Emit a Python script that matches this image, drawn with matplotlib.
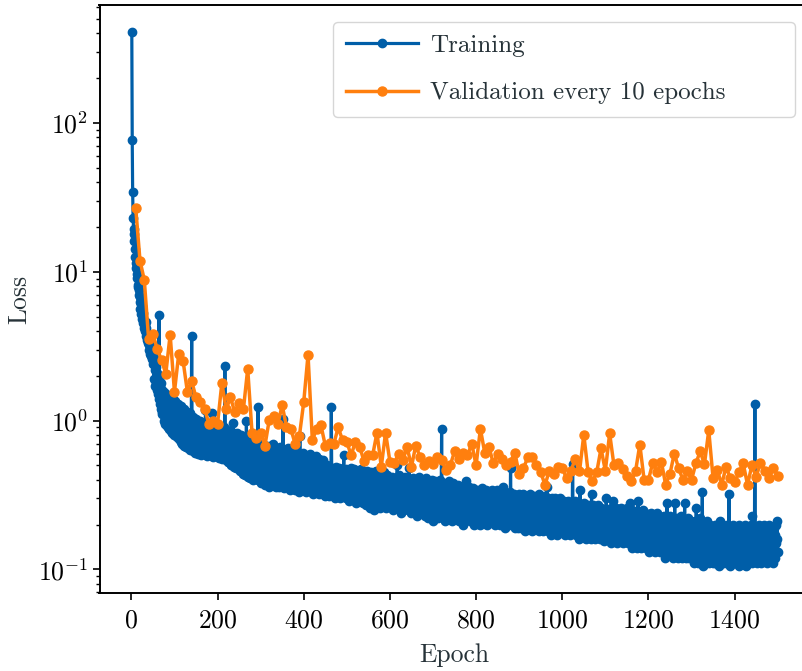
import numpy as np
import matplotlib.pyplot as plt

# Loss per epoch (training)
train_loss = [
    410, 77, 34.5, 23, 19.5, 18, 16, 14.3, 12.5, 11.5,
    10.6, 11.2, 9.1, 9.6, 8.2, 7.9, 7.0, 7.6, 6.3, 6.8,
    5.6, 6.1, 5.2, 5.9, 4.8, 5.3, 4.5, 4.9, 4.2, 4.6,
    4.3, 4.0, 4.6, 3.7, 4.2, 3.5, 3.9, 3.3, 3.8, 3.2,
    3.6, 3.0, 3.4, 2.8, 3.3, 2.7, 3.1, 2.6, 2.9, 2.4,
    2.6, 1.9, 2.4, 1.7, 2.2, 2.7, 1.8, 2.3, 1.6, 2.1,
    1.5, 2.0, 1.4, 5.1, 1.9, 1.3, 1.7, 1.2, 1.8, 1.15,
    1.6, 1.1, 1.5, 1.25, 1.0, 1.55, 1.05, 1.4, 0.95, 1.3,
    1.5, 0.92, 1.2, 1.35, 0.9, 1.1, 1.45, 0.88, 1.25, 1.0,
    0.85, 1.3, 0.95, 1.15, 0.82, 1.4, 0.9, 1.2, 0.8, 1.1,
    1.35, 0.86, 1.0, 1.25, 0.78, 1.15, 0.92, 1.3, 0.8, 1.05,
    0.75, 1.2, 0.88, 1.1, 0.72, 1.25, 0.95, 0.7, 1.15, 0.84,
    1.05, 0.68, 1.2, 0.9, 0.74, 1.1, 0.66, 0.98, 1.15, 0.77,
    0.95, 0.65, 1.08, 0.82, 0.7, 1.12, 0.63, 0.9, 1.0, 3.7,
    0.72, 0.95, 0.62, 1.05, 0.8, 0.68, 0.92, 0.61, 1.02, 0.75,
    0.88, 0.64, 0.98, 0.72, 0.6, 0.93, 0.79, 0.66, 1.0, 0.7,
    0.85, 0.59, 0.95, 0.74, 0.63, 0.9, 0.68, 0.82, 0.6, 0.97,
    0.71, 1.18, 0.64, 0.86, 0.58, 0.92, 0.76, 0.62, 0.88, 0.67,
    0.94, 0.59, 0.8, 0.7, 0.6, 1.12, 0.66, 0.9, 0.57, 0.83,
    0.64, 0.92, 0.72, 0.58, 0.87, 0.62, 0.78, 0.95, 0.6, 0.8,
    0.66, 0.88, 0.56, 0.75, 0.62, 0.92, 0.58, 0.8, 0.68, 0.55,
    0.85, 0.63, 0.74, 0.57, 0.9, 0.66, 2.33, 0.6, 0.82, 0.54,
    0.77, 0.64, 0.87, 0.53, 0.7, 0.6, 0.84, 0.52, 0.72, 0.65,
    0.5, 0.8, 0.62, 0.74, 0.51, 0.97, 0.58, 0.83, 0.49, 0.68,
    0.6, 0.78, 0.48, 0.71, 0.55, 0.82, 0.5, 0.66, 0.75, 0.47,
    0.62, 0.74, 0.46, 0.58, 0.8, 0.5, 0.69, 0.44, 0.63, 0.76,
    0.48, 0.56, 0.71, 0.43, 0.66, 0.52, 1.0, 0.45, 0.6, 0.73,
    0.42, 0.57, 0.68, 0.47, 0.78, 0.41, 0.55, 0.64, 0.44, 0.7,
    0.5, 0.61, 0.4, 0.74, 0.53, 0.45, 0.67, 0.42, 0.58, 0.71,
    0.44, 0.6, 0.49, 1.24, 0.4, 0.65, 0.54, 0.43, 0.69, 0.47,
    0.58, 0.38, 0.66, 0.46, 0.55, 0.7, 0.41, 0.6, 0.5, 0.37,
    0.64, 0.44, 0.52, 0.68, 0.39, 0.57, 0.47, 0.62, 0.36, 0.54,
    0.43, 0.67, 0.49, 0.38, 0.6, 0.45, 0.56, 0.7, 0.37, 0.51,
    0.63, 0.42, 0.48, 0.58, 0.36, 0.65, 0.44, 0.53, 0.4, 0.61,
    0.47, 0.55, 0.36, 0.66, 0.43, 0.5, 0.59, 0.38, 0.62, 0.45,
    0.52, 1.02, 0.4, 0.57, 0.35, 0.63, 0.46, 0.42, 0.6, 0.37,
    0.54, 0.44, 0.65, 0.36, 0.49, 0.58, 0.34, 0.5, 0.61, 0.41,
    0.46, 0.35, 0.57, 0.43, 0.62, 0.38, 0.52, 0.47, 0.34, 0.59,
    0.42, 0.55, 0.36, 0.49, 0.6, 0.4, 0.45, 0.56, 0.33, 0.5,
    0.79, 0.41, 0.58, 0.37, 0.47, 0.53, 0.34, 0.61, 0.44, 0.39,
    0.55, 0.36, 0.48, 0.59, 0.33, 0.45, 0.52, 0.38, 0.57, 0.42,
    0.35, 0.5, 0.44, 0.6, 0.34, 0.47, 0.54, 0.37, 0.43, 0.56,
    0.32, 0.49, 0.41, 0.55, 0.36, 0.46, 0.51, 0.33, 0.58, 0.4,
    0.45, 0.53, 0.35, 0.48, 0.32, 0.55, 0.42, 0.38, 0.5, 0.34,
    0.52, 0.39, 0.46, 0.32, 0.54, 0.41, 0.36, 0.49, 0.44, 0.31,
    0.47, 0.35, 0.5, 0.4, 0.33, 0.45, 0.38, 0.48, 0.31, 0.43,
    0.37, 0.49, 0.34, 1.24, 0.42, 0.46, 0.32, 0.4, 0.47, 0.36,
    0.44, 0.3, 0.41, 0.49, 0.35, 0.45, 0.38, 0.31, 0.46, 0.4,
    0.34, 0.48, 0.37, 0.43, 0.3, 0.45, 0.39, 0.47, 0.33, 0.41,
    0.36, 0.44, 0.59, 0.32, 0.46, 0.38, 0.42, 0.3, 0.47, 0.35,
    0.43, 0.31, 0.46, 0.37, 0.4, 0.29, 0.45, 0.35, 0.42, 0.48,
    0.33, 0.39, 0.44, 0.3, 0.41, 0.36, 0.47, 0.32, 0.38, 0.43,
    0.28, 0.45, 0.37, 0.41, 0.31, 0.46, 0.34, 0.39, 0.43, 0.29,
    0.4, 0.35, 0.47, 0.3, 0.42, 0.37, 0.44, 0.28, 0.39, 0.33,
    0.45, 0.36, 0.41, 0.27, 0.43, 0.32, 0.38, 0.46, 0.3, 0.4,
    0.34, 0.42, 0.26, 0.39, 0.45, 0.31, 0.37, 0.41, 0.28, 0.44,
    0.33, 0.38, 0.25, 0.43, 0.35, 0.3, 0.4, 0.46, 0.29, 0.36,
    0.42, 0.27, 0.39, 0.34, 0.44, 0.31, 0.37, 0.26, 0.41, 0.35,
    0.3, 0.43, 0.36, 0.28, 0.4, 0.33, 0.45, 0.29, 0.38, 0.32,
    0.41, 0.26, 0.37, 0.43, 0.31, 0.35, 0.28, 0.42, 0.34, 0.39,
    0.29, 0.4, 0.33, 0.26, 0.42, 0.31, 0.37, 0.25, 0.39, 0.34,
    0.28, 0.41, 0.35, 0.3, 0.38, 0.27, 0.5, 0.32, 0.36, 0.43,
    0.26, 0.34, 0.4, 0.29, 0.37, 0.24, 0.41, 0.31, 0.35, 0.27,
    0.39, 0.33, 0.25, 0.42, 0.3, 0.36, 0.28, 0.4, 0.32, 0.26,
    0.37, 0.29, 0.41, 0.34, 0.48, 0.27, 0.35, 0.31, 0.39, 0.24,
    0.33, 0.38, 0.27, 0.41, 0.3, 0.25, 0.36, 0.32, 0.4, 0.28,
    0.35, 0.23, 0.39, 0.31, 0.27, 0.37, 0.33, 0.42, 0.26, 0.3,
    0.38, 0.24, 0.34, 0.29, 0.4, 0.32, 0.25, 0.36, 0.28, 0.39,
    0.31, 0.23, 0.35, 0.41, 0.27, 0.33, 0.3, 0.37, 0.22, 0.34,
    0.29, 0.38, 0.25, 0.32, 0.36, 0.24, 0.4, 0.28, 0.33, 0.21,
    0.35, 0.27, 0.31, 0.39, 0.23, 0.34, 0.29, 0.37, 0.25, 0.32,
    0.38, 0.22, 0.3, 0.35, 0.27, 0.4, 0.24, 0.33, 0.28, 0.875,
    0.31, 0.36, 0.23, 0.34, 0.26, 0.38, 0.29, 0.21, 0.33, 0.3,
    0.25, 0.37, 0.32, 0.22, 0.35, 0.28, 0.39, 0.26, 0.31, 0.34,
    0.23, 0.36, 0.29, 0.33, 0.21, 0.38, 0.27, 0.3, 0.35, 0.24,
    0.32, 0.28, 0.36, 0.22, 0.3, 0.34, 0.25, 0.37, 0.27, 0.31,
    0.21, 0.33, 0.29, 0.35, 0.24, 0.31, 0.26, 0.36, 0.2, 0.3,
    0.34, 0.27, 0.23, 0.32, 0.28, 0.39, 0.25, 0.33, 0.22, 0.35,
    0.29, 0.31, 0.24, 0.36, 0.27, 0.21, 0.33, 0.3, 0.26, 0.34,
    0.23, 0.32, 0.28, 0.35, 0.2, 0.3, 0.26, 0.33, 0.29, 0.24,
    0.31, 0.27, 0.34, 0.22, 0.29, 0.25, 0.33, 0.2, 0.3, 0.28,
    0.24, 0.32, 0.26, 0.35, 0.21, 0.29, 0.31, 0.23, 0.33, 0.27,
    0.3, 0.22, 0.34, 0.26, 0.28, 0.2, 0.32, 0.25, 0.29, 0.31,
    0.23, 0.33, 0.27, 0.21, 0.3, 0.34, 0.24, 0.28, 0.32, 0.22,
    0.29, 0.26, 0.33, 0.2, 0.31, 0.25, 0.28, 0.34, 0.23, 0.3,
    0.27, 0.21, 0.32, 0.25, 0.29, 0.2, 0.31, 0.24, 0.28, 0.33,
    0.22, 0.26, 0.36, 0.23, 0.3, 0.27, 0.19, 0.31, 0.25, 0.29,
    0.32, 0.21, 0.28, 0.24, 0.3, 0.2, 0.27, 0.33, 0.23, 0.48,
    0.26, 0.29, 0.2, 0.31, 0.25, 0.28, 0.22, 0.32, 0.24, 0.19,
    0.3, 0.27, 0.23, 0.31, 0.21, 0.26, 0.29, 0.19, 0.32, 0.25,
    0.28, 0.22, 0.31, 0.24, 0.19, 0.27, 0.3, 0.21, 0.26, 0.32,
    0.23, 0.29, 0.18, 0.25, 0.31, 0.22, 0.27, 0.2, 0.3, 0.24,
    0.28, 0.19, 0.26, 0.32, 0.21, 0.29, 0.23, 0.25, 0.18, 0.3,
    0.24, 0.27, 0.2, 0.31, 0.22, 0.28, 0.25, 0.19, 0.29, 0.26,
    0.21, 0.3, 0.23, 0.27, 0.18, 0.32, 0.24, 0.2, 0.28, 0.25,
    0.27, 0.2, 0.3, 0.23, 0.26, 0.18, 0.29, 0.22, 0.25, 0.31,
    0.19, 0.24, 0.28, 0.21, 0.36, 0.26, 0.18, 0.3, 0.23, 0.27,
    0.2, 0.29, 0.24, 0.17, 0.27, 0.22, 0.3, 0.25, 0.19, 0.28,
    0.23, 0.26, 0.18, 0.3, 0.21, 0.25, 0.28, 0.17, 0.24, 0.29,
    0.22, 0.27, 0.19, 0.25, 0.3, 0.2, 0.26, 0.23, 0.18, 0.28,
    0.24, 0.19, 0.27, 0.22, 0.29, 0.17, 0.25, 0.21, 0.28, 0.2,
    0.26, 0.18, 0.23, 0.29, 0.2, 0.25, 0.17, 0.27, 0.22, 0.24,
    0.19, 0.28, 0.21, 0.51, 0.24, 0.18, 0.26, 0.2, 0.29, 0.23,
    0.17, 0.25, 0.21, 0.27, 0.19, 0.23, 0.28, 0.16, 0.24, 0.22,
    0.34, 0.2, 0.26, 0.18, 0.23, 0.27, 0.17, 0.25, 0.21, 0.28,
    0.19, 0.24, 0.22, 0.16, 0.26, 0.2, 0.23, 0.18, 0.27, 0.21,
    0.25, 0.17, 0.22, 0.19, 0.26, 0.23, 0.16, 0.32, 0.2, 0.24,
    0.18, 0.27, 0.21, 0.23, 0.16, 0.25, 0.19, 0.22, 0.26, 0.17,
    0.24, 0.2, 0.27, 0.18, 0.22, 0.25, 0.16, 0.21, 0.23, 0.19,
    0.26, 0.17, 0.24, 0.2, 0.22, 0.155, 0.25, 0.19, 0.21, 0.23,
    0.18, 0.3, 0.2, 0.23, 0.16, 0.25, 0.19, 0.22, 0.17, 0.24,
    0.2, 0.26, 0.15, 0.21, 0.23, 0.18, 0.25, 0.29, 0.19, 0.22,
    0.16, 0.24, 0.2, 0.26, 0.17, 0.21, 0.23, 0.15, 0.25, 0.19,
    0.22, 0.18, 0.24, 0.16, 0.2, 0.26, 0.17, 0.23, 0.21, 0.15,
    0.25, 0.19, 0.22, 0.17, 0.24, 0.2, 0.16, 0.23, 0.18, 0.26,
    0.2, 0.15, 0.23, 0.18, 0.21, 0.16, 0.24, 0.28, 0.17, 0.22,
    0.19, 0.14, 0.25, 0.2, 0.17, 0.23, 0.15, 0.21, 0.18, 0.24,
    0.16, 0.22, 0.19, 0.14, 0.23, 0.29, 0.17, 0.2, 0.15, 0.24,
    0.18, 0.21, 0.14, 0.23, 0.19, 0.16, 0.25, 0.17, 0.22, 0.15,
    0.2, 0.24, 0.16, 0.19, 0.14, 0.22, 0.18, 0.23, 0.15, 0.21,
    0.17, 0.13, 0.22, 0.19, 0.15, 0.24, 0.16, 0.2, 0.14, 0.21,
    0.18, 0.23, 0.15, 0.19, 0.13, 0.22, 0.17, 0.2, 0.16, 0.24,
    0.14, 0.19, 0.21, 0.15, 0.23, 0.17, 0.13, 0.2, 0.18, 0.22,
    0.16, 0.21, 0.14, 0.19, 0.23, 0.15, 0.18, 0.12, 0.2, 0.17,
    0.22, 0.14, 0.28, 0.18, 0.15, 0.21, 0.13, 0.19, 0.16, 0.23,
    0.15, 0.2, 0.13, 0.18, 0.22, 0.14, 0.17, 0.12, 0.21, 0.16,
    0.28, 0.15, 0.19, 0.13, 0.22, 0.17, 0.14, 0.2, 0.12, 0.18,
    0.21, 0.15, 0.17, 0.13, 0.19, 0.23, 0.14, 0.16, 0.12, 0.2,
    0.15, 0.18, 0.13, 0.28, 0.16, 0.21, 0.12, 0.17, 0.19, 0.14,
    0.22, 0.15, 0.18, 0.12, 0.2, 0.16, 0.13, 0.19, 0.21, 0.14,
    0.17, 0.12, 0.2, 0.15, 0.11, 0.18, 0.14, 0.21, 0.13, 0.16,
    0.26, 0.12, 0.19, 0.15, 0.17, 0.11, 0.2, 0.14, 0.22, 0.13,
    0.16, 0.18, 0.12, 0.15, 0.33, 0.13, 0.105, 0.19, 0.14, 0.17,
    0.12, 0.2, 0.15, 0.11, 0.18, 0.14, 0.21, 0.13, 0.16, 0.19,
    0.11, 0.15, 0.2, 0.13, 0.17, 0.12, 0.19, 0.14, 0.16, 0.11,
    0.18, 0.13, 0.16, 0.11, 0.2, 0.14, 0.17, 0.12, 0.19, 0.15,
    0.12, 0.18, 0.14, 0.105, 0.21, 0.13, 0.16, 0.11, 0.19, 0.15,
    0.13, 0.17, 0.12, 0.2, 0.14, 0.11, 0.18, 0.15, 0.13, 0.19,
    0.16, 0.11, 0.2, 0.14, 0.12, 0.17, 0.32, 0.13, 0.15, 0.105,
    0.19, 0.14, 0.12, 0.18, 0.16, 0.11, 0.2, 0.13, 0.15, 0.11,
    0.17, 0.12, 0.15, 0.19, 0.11, 0.16, 0.13, 0.18, 0.14, 0.105,
    0.2, 0.13, 0.16, 0.11, 0.18, 0.14, 0.12, 0.19, 0.15, 0.13,
    0.17, 0.11, 0.14, 0.2, 0.12, 0.16, 0.105, 0.18, 0.13, 0.15,
    0.19, 0.12, 0.16, 0.11, 0.14, 0.18, 0.13, 0.2, 0.15, 0.11,
    0.23, 0.14, 0.17, 0.12, 0.19, 0.16, 1.3, 0.13, 0.18, 0.12,
    0.16, 0.11, 0.19, 0.14, 0.17, 0.12, 0.2, 0.15, 0.13, 0.18,
    0.11, 0.16, 0.14, 0.19, 0.12, 0.17, 0.15, 0.2, 0.13, 0.16,
    0.12, 0.18, 0.14, 0.11, 0.19, 0.15, 0.17, 0.13, 0.2, 0.12,
    0.16, 0.14, 0.19, 0.12, 0.17, 0.15, 0.13, 0.18, 0.11, 0.16,
    0.14, 0.19, 0.12, 0.17, 0.15, 0.2, 0.13, 0.21, 0.16, 0.13,
]

# Validation loss, one value every 10 epochs
val_loss = [
    27, 11.9, 8.8, 3.55, 3.8, 3.04, 2.54, 2.07, 3.78, 1.56,
    2.82, 2.52, 1.56, 1.84, 1.43, 1.33, 1.20, 0.95, 0.99, 0.95,
    1.79, 1.19, 1.43, 1.14, 1.32, 1.19, 2.23, 0.83, 0.76, 0.83,
    0.68, 1.01, 1.07, 0.95, 1.27, 0.91, 0.88, 0.70, 0.79, 1.33,
    2.77, 0.74, 0.88, 0.93, 0.68, 0.71, 0.70, 0.90, 0.74, 0.72,
    0.585, 0.72, 0.665, 0.533, 0.585, 0.585, 0.83, 0.49, 0.83, 0.53,
    0.515, 0.60, 0.54, 0.665, 0.49, 0.68, 0.57, 0.50, 0.533, 0.51,
    0.57, 0.54, 0.465, 0.50, 0.62, 0.555, 0.61, 0.585, 0.70, 0.50,
    0.88, 0.61, 0.665, 0.515, 0.60, 0.555, 0.50, 0.53, 0.61, 0.435,
    0.48, 0.565, 0.57, 0.50, 0.45, 0.37, 0.46, 0.44, 0.49, 0.48,
    0.41, 0.46, 0.55, 0.455, 0.805, 0.45, 0.39, 0.45, 0.65, 0.46,
    0.82, 0.50, 0.515, 0.47, 0.425, 0.39, 0.455, 0.69, 0.40, 0.40,
    0.52, 0.45, 0.53, 0.37, 0.44, 0.60, 0.48, 0.40, 0.455, 0.40,
    0.515, 0.62, 0.51, 0.86, 0.41, 0.465, 0.37, 0.49, 0.41, 0.385,
    0.45, 0.515, 0.37, 0.50, 0.42, 0.52, 0.46, 0.41, 0.48, 0.425,
]

train_epochs = np.arange(1, len(train_loss) + 1)
val_epochs = 10 * np.arange(1, len(val_loss) + 1)

#### Style: LaTeX-like look with Computer Modern
plt.rcParams['font.family'] = 'serif'
plt.rcParams['font.serif'] = ['cmr10']
plt.rcParams['mathtext.fontset'] = 'cm'
plt.rcParams['axes.formatter.use_mathtext'] = True
plt.rcParams['axes.unicode_minus'] = False

blue = '#005ea8'
orange = '#ff7f0e'
label_color = '#263238'
fs = 18.5

fig = plt.figure(figsize=(8.02, 6.71), dpi=100, facecolor='white')
# the reference is cropped on the right, so the axes run past the figure edge
ax = fig.add_axes([99.5 / 802, 78 / 671, (810 - 99.5) / 802, 588 / 671])

ax.plot(train_epochs, train_loss, '-o', color=blue, lw=2.3, ms=6,
        label='Training')
ax.plot(val_epochs, val_loss, '-o', color=orange, lw=2.5, ms=6.5,
        label='Validation every 10 epochs')
ax.set_yscale('log')

ax.set_xlabel('Epoch', fontsize=fs, color=label_color, labelpad=8)
ax.set_ylabel('Loss', fontsize=fs, color=label_color, labelpad=5)

for side in ['left', 'bottom', 'top', 'right']:
    ax.spines[side].set_linewidth(1.4)
ax.tick_params(which='major', length=5, width=1.2, labelsize=fs)
ax.tick_params(which='minor', length=3, width=1.0)
ax.tick_params(axis='x', pad=6)
ax.tick_params(axis='y', pad=3)

# legend box spans x 333..795 px, y 22..120 px in the reference
leg = ax.legend(loc='upper left', mode='expand',
                bbox_to_anchor=(333 / 802, 1 - 120 / 671, 462 / 802, 98 / 671),
                bbox_transform=fig.transFigure, borderaxespad=0,
                fontsize=18, fancybox=True, edgecolor='#cccccc',
                handlelength=2.9, handletextpad=0.5, labelspacing=1.0,
                borderpad=0.5)
for t in leg.get_texts():
    t.set_color(label_color)

plt.savefig('out.png', dpi=100, facecolor='white')
